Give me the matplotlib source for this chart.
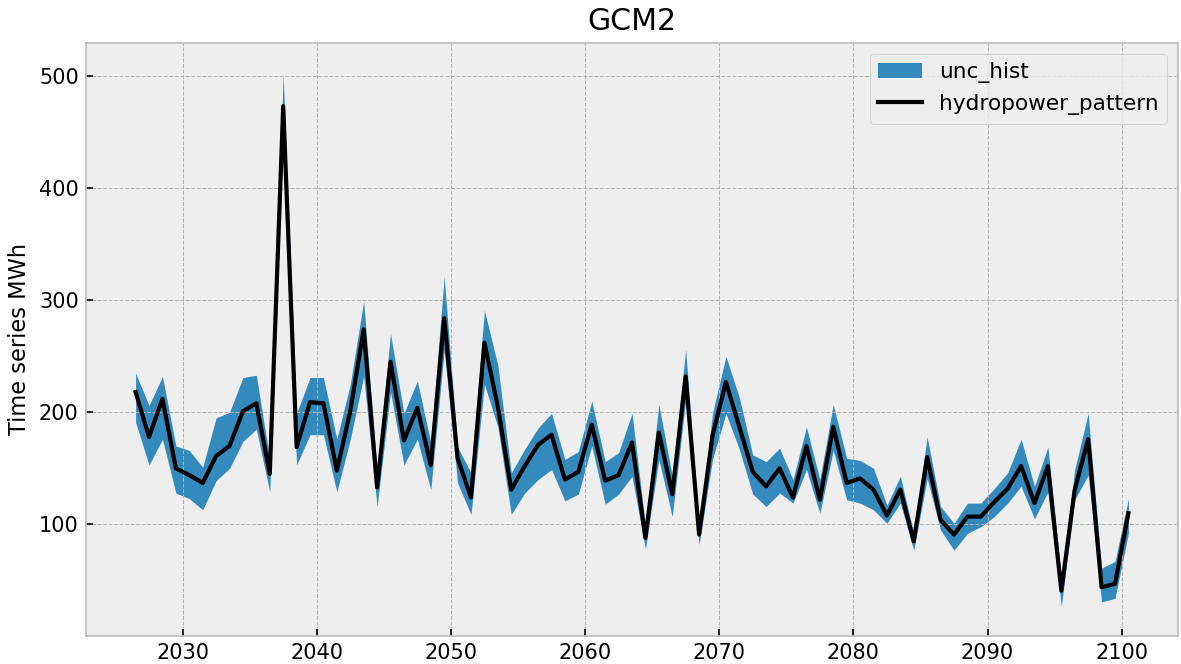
import matplotlib
matplotlib.use("Agg")
import matplotlib.pyplot as plt
import numpy as np

plt.style.use("bmh")

years = np.arange(2026, 2101)

hydropower_pattern = [
    218, 178, 212, 150, 144, 137, 161, 170, 201, 208,
    145, 473, 169, 209, 208, 148, 201, 274, 133, 245,
    175, 204, 153, 284, 159, 124, 262, 205, 131, 152,
    171, 180, 140, 147, 189, 139, 144, 173, 88, 182,
    127, 232, 91, 179, 227, 187, 147, 134, 150, 124,
    170, 122, 187, 137, 141, 131, 108, 131, 85, 160,
    104, 91, 107, 107, 120, 132, 152, 119, 152, 41,
    131, 176, 44, 47, 110,
]

unc_upper = [
    235, 206, 232, 170, 166, 151, 195, 200, 231, 233,
    158, 501, 199, 231, 231, 176, 225, 299, 148, 270,
    199, 228, 173, 321, 169, 146, 291, 242, 146, 167,
    186, 199, 158, 165, 210, 156, 164, 199, 99, 207,
    143, 256, 99, 199, 250, 213, 162, 156, 168, 140,
    187, 140, 207, 159, 157, 150, 117, 143, 92, 178,
    116, 101, 119, 119, 132, 146, 176, 134, 169, 53,
    149, 199, 61, 67, 123,
]

unc_lower = [
    191, 153, 176, 128, 123, 113, 139, 150, 174, 185,
    129, 445, 153, 180, 180, 129, 176, 232, 116, 218,
    153, 176, 131, 255, 137, 109, 225, 187, 109, 128,
    140, 149, 121, 127, 170, 118, 127, 143, 78, 158,
    107, 211, 82, 158, 199, 167, 127, 116, 128, 119,
    149, 110, 166, 122, 119, 113, 101, 119, 77, 141,
    95, 77, 92, 98, 107, 119, 134, 105, 129, 27,
    122, 144, 31, 34, 92,
]

# yearly values sit in the middle of each year
t = years + 0.5

fig = plt.figure(figsize=(1181 / 150, 664 / 150), dpi=150)
ax = fig.add_axes([0.0728, 0.042, 0.9247, 0.8937])

ax.fill_between(t, unc_lower, unc_upper, color="#348ABD", alpha=1.0,
                label="unc_hist", linewidth=0)
ax.plot(t, hydropower_pattern, color="black", linewidth=2.0,
        label="hydropower_pattern")

ax.set_ylim(0.4, 529.6)
ax.set_yticks([100, 200, 300, 400, 500])
ax.set_xticks(np.arange(2030, 2101, 10))
ax.set_title("GCM2")
ax.set_ylabel("Time series MWh", fontsize=10.8)
ax.legend(loc="upper right", fontsize=10.4)

fig.savefig("out.png", dpi=150)
